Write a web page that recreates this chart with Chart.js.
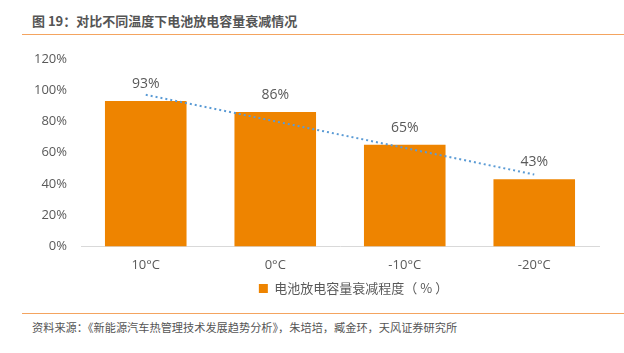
<!DOCTYPE html>
<html>
<head>
<meta charset="utf-8">
<script src="https://cdn.jsdelivr.net/npm/chart.js@4"></script>
<style>
  body { margin: 0; width: 624px; height: 353px; background: #fff; position: relative; overflow: hidden; font-family: "Noto Sans CJK SC", "Noto Sans", sans-serif; }
  #title { position: absolute; left: 32px; top: 11px; font-size: 13px; font-weight: bold; color: #555; }
  #rule1 { position: absolute; left: 22px; right: 0; top: 34px; border-top: 1px solid #F4A460; }
  #rule2 { position: absolute; left: 22px; right: 0; top: 313px; border-top: 1px solid #F4A460; }
  #source { position: absolute; left: 32px; top: 319px; font-size: 11.2px; color: #555; }
  #wrap { position: absolute; left: 0; top: 37px; width: 624px; height: 268px; }
</style>
</head>
<body>
<div id="title">图 19：对比不同温度下电池放电容量衰减情况</div>
<div id="rule1"></div>
<div id="wrap"><canvas id="chart"></canvas></div>
<div id="rule2"></div>
<div id="source">资料来源：《新能源汽车热管理技术发展趋势分析》，朱培培，臧金环，天风证券研究所</div>
<script>
// ==============================
// Data
// ==============================
const categories = ["10°C", "0°C", "-10°C", "-20°C"];
const capacityLoss = [93, 86, 65, 43];
const trendValues = [97, 80, 63, 46];
const seriesName = "电池放电容量衰减程度（ % ）";

const numFont = "\"Open Sans\", \"Noto Sans\", sans-serif";

// draws the % labels above each bar
const barLabels = {
    id: "barLabels",
    afterDatasetsDraw(chart) {
        let ctx = chart.ctx;
        let meta = chart.getDatasetMeta(1);
        ctx.save();
        ctx.font = "14px " + numFont;
        ctx.fillStyle = "#595959";
        ctx.textAlign = "center";
        ctx.textBaseline = "bottom";
        meta.data.forEach((bar, i) => {
            ctx.fillText(capacityLoss[i] + "%", bar.x, bar.y - 10);
        });
        ctx.restore();
    }
};

// legend sits a bit right of centre in the original
const legendShift = {
    id: "legendShift",
    afterLayout(chart) {
        chart.legend.left += 54;
        chart.legend.right += 54;
    }
};

document.addEventListener("DOMContentLoaded", function () {
    let ctx = document.getElementById("chart").getContext("2d");
    new Chart(ctx, {
        data: {
            labels: categories,
            datasets: [{
                type: "line",
                label: "trend",
                data: trendValues,
                borderColor: "#5B9BD5",
                borderWidth: 2,
                borderDash: [2, 3],
                pointRadius: 0,
                fill: false,
                order: 0
            }, {
                type: "bar",
                label: seriesName,
                data: capacityLoss,
                backgroundColor: "#EE8400",
                categoryPercentage: 0.63,
                barPercentage: 1,
                order: 1
            }]
        },
        options: {
            responsive: true,
            maintainAspectRatio: false,
            animation: false,
            layout: { padding: { left: 0, right: 25, top: 12, bottom: 0 } },
            scales: {
                x: {
                    grid: { display: false, drawTicks: false },
                    border: { color: "#D9D9D9", width: 1 },
                    ticks: { color: "#595959", font: { size: 13, family: numFont }, padding: 11 },
                    afterFit: scale => { scale.height -= 7; }
                },
                y: {
                    min: 0,
                    max: 120,
                    grid: { display: false, drawTicks: false },
                    border: { display: false },
                    ticks: {
                        stepSize: 20,
                        color: "#595959",
                        padding: 14,
                        font: { size: 13, family: numFont },
                        callback: v => v + "%"
                    },
                    afterFit: scale => { scale.width = 81; }
                }
            },
            plugins: {
                legend: {
                    position: "bottom",
                    labels: {
                        filter: item => item.datasetIndex === 1,
                        boxWidth: 9,
                        boxHeight: 9,
                        color: "#595959",
                        font: { size: 13, family: "\"Noto Sans CJK SC\", sans-serif" },
                        padding: 5
                    }
                },
                tooltip: { enabled: false }
            }
        },
        plugins: [barLabels, legendShift]
    });
});
</script>
</body>
</html>
